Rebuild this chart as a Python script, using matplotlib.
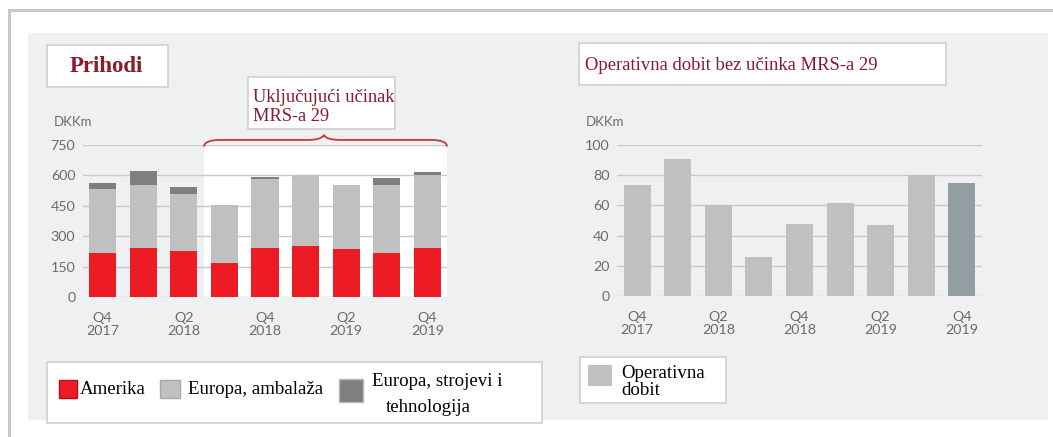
import matplotlib
matplotlib.use("Agg")
import matplotlib.pyplot as plt
from matplotlib.patches import Rectangle, PathPatch
from matplotlib.path import Path

# data
quarters = ["Q4 2017", "Q1 2018", "Q2 2018", "Q3 2018", "Q4 2018",
            "Q1 2019", "Q2 2019", "Q3 2019", "Q4 2019"]
tick_labels = ["Q4\n2017", "Q2\n2018", "Q4\n2018", "Q2\n2019", "Q4\n2019"]
amerika = [217, 244, 225, 168, 244, 250, 238, 217, 244]
europa_ambalaza = [314, 307, 281, 288, 336, 352, 313, 334, 359]
europa_strojevi = [31, 69, 36, 0, 12, 0, 0, 36, 13]
operativna_dobit = [73.5, 91, 60.3, 26, 47.7, 61.4, 46.8, 80, 74.6]

W, H = 1053, 437
RED = "#ed1c24"
LIGHT = "#c0c0c0"
DARK = "#7f7f7f"
LAST = "#939ea3"
PANEL = "#eff0f2"
MAROON = "#8b1a2b"
EDGE = "#cfcfcf"
TICK = "#6b6b6b"
SANS = "Lato"
SERIF = "Liberation Serif"


def box(fig, x0, y0, x1, y1, face="white", edge=EDGE, lw=1.2, z=1):
    fig.patches.append(Rectangle((x0 / W, 1 - y1 / H), (x1 - x0) / W, (y1 - y0) / H,
                                 transform=fig.transFigure, facecolor=face,
                                 edgecolor=edge, linewidth=lw, zorder=z))


def add_ax(fig, x0, y0, x1, y1):
    ax = fig.add_axes([x0 / W, 1 - y1 / H, (x1 - x0) / W, (y1 - y0) / H])
    ax.set_zorder(0.5)
    return ax


def style_axes(ax, ticks, ymax):
    ax.set_facecolor("none")
    for s in ax.spines.values():
        s.set_visible(False)
    ax.set_ylim(0, ymax)
    ax.set_yticks(ticks)
    ax.tick_params(length=0, labelsize=10.3, labelcolor=TICK, pad=5.5)
    ax.tick_params(axis="x", pad=10.5)
    ax.grid(axis="y", color="#c9c9c9", linewidth=1)
    ax.set_axisbelow(True)
    for lab in ax.get_xticklabels() + ax.get_yticklabels():
        lab.set_fontfamily(SANS)
    for lab in ax.get_xticklabels():
        lab.set_linespacing(1.1)


fig = plt.figure(figsize=(W / 100, H / 100), dpi=100)
fig.patch.set_facecolor("white")

# outer frame lines and panel
box(fig, 8, 9, W + 5, 12, face="#c8c8c8", edge="none", z=-1)
box(fig, 8, 9, 11, H + 5, face="#c8c8c8", edge="none", z=-1)
box(fig, 28, 33, 1048, 420, face=PANEL, edge="none", z=-1)

x = list(range(len(quarters)))
bw = 0.665

# left chart: Prihodi
ax1 = add_ax(fig, 83, 145, 447, 297)
ax1.set_xlim(-0.48, 8.48)
ax1.add_patch(Rectangle((2.5, 0), 5.98, 745, facecolor="white", edgecolor="none", zorder=0))
bottom2 = [a + b for a, b in zip(amerika, europa_ambalaza)]
ax1.bar(x, amerika, width=bw, color=RED, zorder=3)
ax1.bar(x, europa_ambalaza, bottom=amerika, width=bw, color=LIGHT, zorder=3)
ax1.bar(x, europa_strojevi, bottom=bottom2, width=bw, color=DARK, zorder=3)
ax1.set_xticks([0, 2, 4, 6, 8])
ax1.set_xticklabels(tick_labels)
style_axes(ax1, [0, 150, 300, 450, 600, 750], 750)

# curly brace over the IFRS 16 period
verts = [(2.5, 742), (2.5, 775), (2.9, 775), (5.05, 775), (5.4, 775), (5.45, 800),
         (5.5, 775), (5.85, 775), (8.08, 775), (8.48, 775), (8.48, 742)]
codes = [Path.MOVETO, Path.CURVE3, Path.CURVE3, Path.LINETO, Path.CURVE3, Path.CURVE3,
         Path.CURVE3, Path.CURVE3, Path.LINETO, Path.CURVE3, Path.CURVE3]
ax1.add_patch(PathPatch(Path(verts, codes), facecolor="none", edgecolor="#c23a3f",
                        linewidth=1.3, clip_on=False, zorder=5))

# right chart: Operativna dobit
ax2 = add_ax(fig, 617, 145, 982, 296)
ax2.set_xlim(-0.5, 8.5)
colors = [LIGHT] * (len(quarters) - 1) + [LAST]
ax2.bar(x, operativna_dobit, width=0.667, color=colors, zorder=3)
ax2.set_xticks([0, 2, 4, 6, 8])
ax2.set_xticklabels(tick_labels)
style_axes(ax2, [0, 20, 40, 60, 80, 100], 100)

fig.text(54 / W, 1 - 122 / H, "DKKm", fontsize=9.5, color=TICK, family=SANS, va="center")
fig.text(586 / W, 1 - 122 / H, "DKKm", fontsize=9.5, color=TICK, family=SANS, va="center")

# title boxes
box(fig, 47, 45, 168, 87)
fig.text(106 / W, 1 - 67 / H, "Prihodi", fontsize=16.5, fontweight="bold", color=MAROON,
         family=SERIF, ha="center", va="center")
box(fig, 248, 77, 395, 129)
fig.text(253 / W, 1 - 107 / H, "Uključujući učinak\nMRS-a 29", fontsize=13.2, color=MAROON,
         family=SERIF, ha="left", va="center", linespacing=1.1)
box(fig, 579, 43, 946, 85)
fig.text(585 / W, 1 - 66 / H, "Operativna dobit bez učinka MRS-a 29", fontsize=13.4,
         color=MAROON, family=SERIF, ha="left", va="center")

# left legend
box(fig, 47, 362, 542, 423, z=2)
legend_left = [(59, 380, 77, 398, RED, "#b0121a"), (160, 380, 180, 398, LIGHT, "#a8a8a8"),
               (339, 379, 363, 402, DARK, "#b8b8b8")]
for x0, y0, x1, y1, c, e in legend_left:
    box(fig, x0, y0, x1, y1, face=c, edge=e, lw=1, z=3)
fig.text(80 / W, 1 - 390 / H, "Amerika", fontsize=13.6, family=SERIF, va="center")
fig.text(188 / W, 1 - 390 / H, "Europa, ambalaža", fontsize=13.6, family=SERIF, va="center")
fig.text(372 / W, 1 - 381 / H, "Europa, strojevi i", fontsize=13.6, family=SERIF, va="center")
fig.text(386 / W, 1 - 408 / H, "tehnologija", fontsize=13.6, family=SERIF, va="center")

# right legend
box(fig, 580, 357, 726, 403, z=2)
box(fig, 588, 365, 612, 386, face=LIGHT, edge="none", z=3)
fig.text(621 / W, 1 - 382 / H, "Operativna\ndobit", fontsize=13.6, family=SERIF,
         va="center", linespacing=1.0)

fig.savefig("out.png", dpi=100)
